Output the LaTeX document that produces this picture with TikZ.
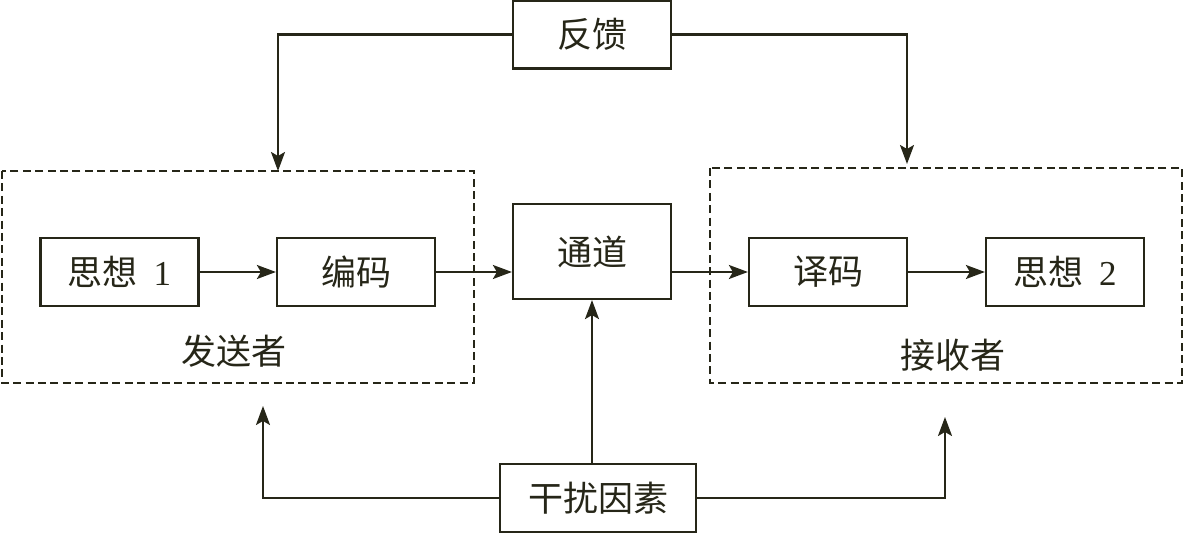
\documentclass[tikz,border=0pt]{standalone}
\usepackage{fontspec}
\setmainfont{Liberation Serif}
\newfontfamily\cjk{Noto Sans CJK SC}
\usetikzlibrary{arrows.meta}
\definecolor{ink}{RGB}{38,38,24}
\begin{document}
\begin{tikzpicture}[x=0.5pt,y=-0.5pt,
  every node/.style={font=\cjk\fontsize{17.5pt}{20pt}\selectfont, text=ink},
  box/.style={draw=ink, line width=1.1pt, minimum width=79pt, minimum height=34pt, inner sep=0pt},
  group/.style={draw=ink, line width=1.1pt, dash pattern=on 4pt off 2.2pt},
  conn/.style={draw=ink, line width=1.05pt},
  arr/.style={conn, -{Stealth[length=9.5pt,width=7pt,inset=2pt]}}]
\useasboundingbox (0,0) rectangle (1184,533);
% dashed groups
\draw[group] (2,171) rectangle (474,383);
\draw[group] (710,168) rectangle (1182,383);
% nodes
\node[box] (fk) at (592,34.5) {反馈};
\node[box] (s1) at (119.5,272) {思想\ \ {\rmfamily 1}};
\node[box] (bm) at (356,272) {编码};
\node[box, minimum height=47.5pt] (td) at (592,251.5) {\raisebox{-3pt}{通道}};
\node[box] (ym) at (828,272) {译码};
\node[box] (s2) at (1065,272) {思想\ \ {\rmfamily 2}};
\node[box, minimum width=98pt] (gr) at (598,498) {干扰因素};
\node (fs) at (234,351) {发送者};
\node (js) at (953,355) {接收者};
% coordinates for arrow tips
\coordinate (lt) at (278,171);
\coordinate (rt) at (907,164);
\coordinate (lb) at (263,406);
\coordinate (rb) at (945,417);
% connectors
\draw[arr] (s1) -- (bm);
\draw[arr] (bm) -- (td.west |- bm);
\draw[arr] (td.east |- ym) -- (ym);
\draw[arr] (ym) -- (s2);
\draw[arr] (fk.west) -| (lt);
\draw[arr] (fk.east) -| (rt);
\draw[arr] (gr.west) -| (lb);
\draw[arr] (gr.east) -| (rb);
\draw[arr] (gr.north -| td) -- (td.south);
\end{tikzpicture}
\end{document}
